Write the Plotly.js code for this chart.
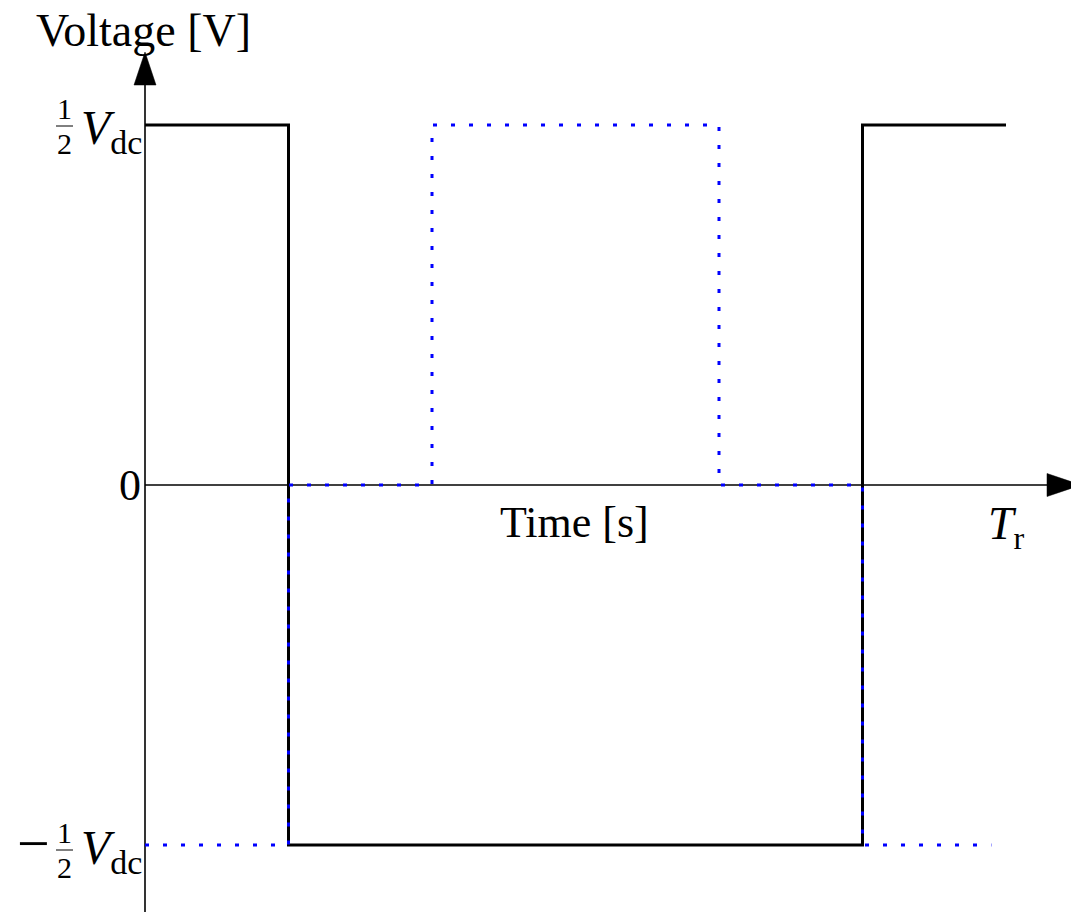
<!DOCTYPE html>
<html>
<head>
<meta charset="utf-8">
<script src="https://cdn.plot.ly/plotly-3.0.1.min.js"></script>
<style>
  html, body { margin: 0; padding: 0; background: #ffffff; }
  #chart { width: 1071px; height: 912px; }
</style>
</head>
<body>
<div id="chart"></div>
<script>
// Time in units of the period T_r, voltage in units of V_dc
const legATime    = [0, 1/6, 1/6, 5/6, 5/6, 1];
const legAVoltage = [0.5, 0.5, -0.5, -0.5, 0.5, 0.5];

const legBTime    = [0, 1/6, 1/6, 1/3, 1/3, 2/3, 2/3, 5/6, 5/6, 0.983];
const legBVoltage = [-0.5, -0.5, 0, 0, 0.5, 0.5, 0, 0, -0.5, -0.5];

const xTitle = 'Time [s]';
const yTitle = 'Voltage [V]';
const periodLabel = '<i>T</i><sub>r</sub>';
const levelLabels = { high: 0.5, zero: 0, low: -0.5 };

const W = 1071, H = 912;
const FONT = 'Liberation Serif, Times New Roman, serif';

// figure pixel -> paper fraction helpers for text placement
const px = v => v / W;
const py = v => 1 - v / H;

const traces = [
  {
    x: legATime, y: legAVoltage, type: 'scatter', mode: 'lines',
    line: { color: '#000000', width: 3, shape: 'linear' },
    hoverinfo: 'skip', showlegend: false
  },
  {
    x: legBTime, y: legBVoltage, type: 'scatter', mode: 'lines',
    line: { color: '#0000ff', width: 3, dash: '4px,14px' },
    hoverinfo: 'skip', showlegend: false
  }
];

function ann(text, x, y, size, xanchor, yanchor) {
  return {
    text: text, xref: 'paper', yref: 'paper', x: x, y: y,
    xanchor: xanchor || 'center', yanchor: yanchor || 'middle',
    showarrow: false, borderpad: 0,
    font: { family: FONT, size: size, color: '#000000' }
  };
}

const vdc = '<i>V</i><sub><span style="font-size:34px">dc</span></sub>';

const annotations = [
  ann(yTitle, px(143), py(30), 46),
  ann(xTitle, px(574), py(522), 44),
  ann(periodLabel, px(1006), py(527), 46),
  // zero level
  ann(String(levelLabels.zero), px(142), py(485), 44, 'right'),
  // +1/2 V_dc : numerator above the bar, denominator below
  ann('1', px(64), py(126), 30, 'center', 'bottom'),
  ann('2', px(64), py(126), 30, 'center', 'top'),
  ann(vdc, px(143), py(131), 48, 'right'),
  // -1/2 V_dc
  ann('\u2212', px(33), py(843), 58),
  ann('1', px(64), py(850), 30, 'center', 'bottom'),
  ann('2', px(64), py(850), 30, 'center', 'top'),
  ann(vdc, px(143), py(851), 48, 'right')
];

const shapes = [
  // fraction bars
  { type: 'line', xref: 'paper', yref: 'paper', x0: px(56), x1: px(73), y0: py(126), y1: py(126),
    line: { color: '#000000', width: 1 } },
  { type: 'line', xref: 'paper', yref: 'paper', x0: px(56), x1: px(73), y0: py(850), y1: py(850),
    line: { color: '#000000', width: 1 } },
  // time axis
  { type: 'line', layer: 'below', xref: 'paper', yref: 'y', x0: px(145), x1: px(1050), y0: 0, y1: 0,
    line: { color: '#000000', width: 1.6 } },
  // voltage axis
  { type: 'line', layer: 'below', xref: 'x', yref: 'paper', x0: 0, x1: 0, y0: 0, y1: py(84),
    line: { color: '#000000', width: 1.6 } },
  // arrow heads
  { type: 'path', xref: 'x', yref: 'paper', xsizemode: 'pixel', ysizemode: 'pixel',
    xanchor: 0, yanchor: py(52), path: 'M 0 0 L -11 -33 L 11 -33 Z',
    fillcolor: '#000000', line: { color: '#000000', width: 0.5 } },
  { type: 'path', xref: 'paper', yref: 'y', xsizemode: 'pixel', ysizemode: 'pixel',
    xanchor: px(1081), yanchor: 0, path: 'M 0 0 L -34 11.5 L -34 -11.5 Z',
    fillcolor: '#000000', line: { color: '#000000', width: 0.5 } }
];

const layout = {
  width: W, height: H,
  margin: { l: 0, r: 0, t: 0, b: 0, pad: 0 },
  paper_bgcolor: '#ffffff', plot_bgcolor: '#ffffff',
  showlegend: false,
  xaxis: { range: [-145 / 861, 926 / 861], visible: false, fixedrange: true },
  yaxis: { range: [-427 / 720, 485 / 720], visible: false, fixedrange: true },
  annotations: annotations,
  shapes: shapes
};

Plotly.newPlot('chart', traces, layout, { displayModeBar: false, staticPlot: true });
</script>
</body>
</html>
